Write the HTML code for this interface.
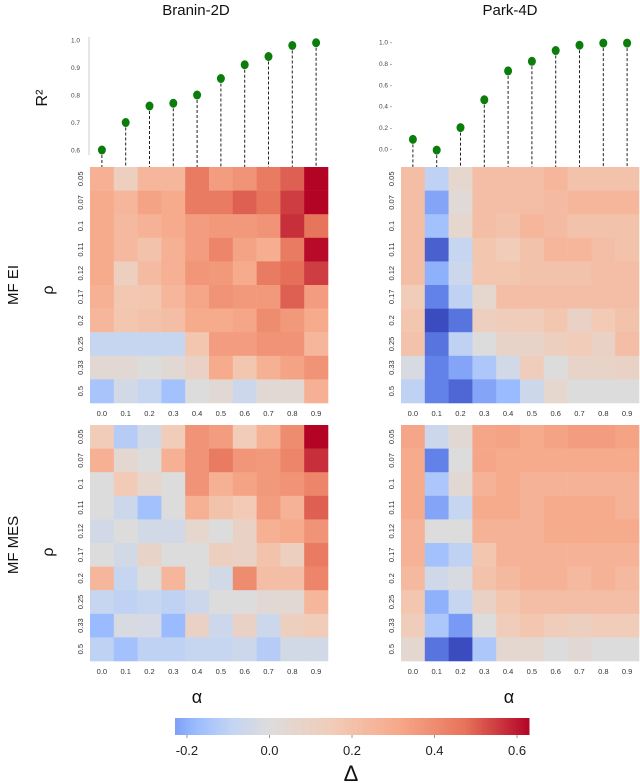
<!DOCTYPE html>
<html><head><meta charset="utf-8"><style>
html,body{margin:0;padding:0;background:#fff;width:640px;height:783px;overflow:hidden}
svg{font-family:"Liberation Sans","DejaVu Sans",sans-serif}
</style></head><body>
<svg id="c" width="640" height="783"></svg>
<script>
const alphas=["0.0","0.1","0.2","0.3","0.4","0.5","0.6","0.7","0.8","0.9"];
const rhos=["0.05","0.07","0.1","0.11","0.12","0.17","0.2","0.25","0.33","0.5"];
const r2Branin=[0.6,0.7,0.76,0.77,0.8,0.86,0.91,0.94,0.98,0.99];
const r2Park=[0.09,-0.01,0.2,0.46,0.73,0.82,0.92,0.97,0.99,0.99];
const braninTicks=[0.6,0.7,0.8,0.9,1.0];
const parkTicks=[0.0,0.2,0.4,0.6,0.8,1.0];
const cbTicks=[-0.2,0.0,0.2,0.4,0.6];
const braninEI=[
[0.28,0.12,0.25,0.25,0.45,0.35,0.38,0.45,0.5,0.63],
[0.3,0.25,0.33,0.3,0.45,0.45,0.5,0.47,0.55,0.63],
[0.3,0.24,0.27,0.3,0.35,0.36,0.36,0.38,0.57,0.47],
[0.3,0.24,0.2,0.28,0.35,0.42,0.33,0.29,0.45,0.62],
[0.3,0.12,0.23,0.28,0.37,0.36,0.3,0.45,0.48,0.55],
[0.28,0.17,0.18,0.25,0.32,0.38,0.36,0.36,0.5,0.35],
[0.25,0.18,0.2,0.22,0.3,0.3,0.32,0.4,0.36,0.3],
[-0.08,-0.08,-0.08,-0.08,0.18,0.35,0.35,0.38,0.38,0.25],
[0.04,0.04,0.0,0.04,0.1,0.3,0.18,0.28,0.33,0.38],
[-0.15,-0.04,-0.08,-0.16,0.0,0.04,-0.06,0.04,0.04,0.28]];
const parkEI=[
[0.22,-0.1,0.06,0.22,0.22,0.22,0.25,0.2,0.2,0.2],
[0.22,-0.22,0.03,0.22,0.22,0.22,0.23,0.25,0.25,0.25],
[0.22,-0.16,0.06,0.22,0.2,0.25,0.23,0.2,0.2,0.2],
[0.22,-0.33,-0.08,0.18,0.15,0.2,0.25,0.25,0.22,0.2],
[0.22,-0.2,-0.06,0.18,0.18,0.2,0.2,0.2,0.22,0.22],
[0.15,-0.28,-0.1,0.06,0.22,0.22,0.22,0.22,0.22,0.22],
[0.18,-0.36,-0.3,0.12,0.14,0.14,0.18,0.1,0.16,0.2],
[0.2,-0.3,-0.1,0.0,0.08,0.08,0.12,0.15,0.1,0.22],
[-0.02,-0.28,-0.22,-0.14,-0.04,0.14,0.0,0.08,0.08,0.1],
[-0.1,-0.28,-0.32,-0.22,-0.18,-0.06,0.06,0.0,0.0,0.0]];
const braninMES=[
[0.15,-0.12,-0.04,0.15,0.38,0.35,0.15,0.28,0.4,0.63],
[0.28,0.05,0.0,0.28,0.38,0.45,0.37,0.36,0.42,0.57],
[0.0,0.16,0.06,0.0,0.38,0.28,0.33,0.36,0.38,0.42],
[0.0,-0.06,-0.16,0.0,0.28,0.2,0.16,0.35,0.27,0.5],
[-0.04,0.0,-0.04,-0.04,0.06,0.0,0.1,0.28,0.3,0.38],
[0.0,-0.04,0.08,0.0,0.0,0.12,0.1,0.2,0.12,0.45],
[0.25,-0.08,0.0,0.25,0.0,-0.04,0.4,0.22,0.22,0.42],
[-0.08,-0.1,-0.08,-0.1,-0.06,0.0,0.0,0.04,0.04,0.25],
[-0.18,-0.02,-0.03,-0.18,0.1,-0.06,0.1,-0.06,0.12,0.15],
[-0.1,-0.16,-0.1,-0.1,-0.08,-0.08,-0.06,-0.12,-0.04,-0.04]];
const parkMES=[
[0.32,-0.06,0.04,0.32,0.33,0.3,0.33,0.35,0.35,0.33],
[0.3,-0.28,0.0,0.32,0.3,0.3,0.3,0.3,0.3,0.3],
[0.3,-0.14,0.04,0.27,0.3,0.27,0.27,0.27,0.27,0.27],
[0.3,-0.22,-0.08,0.3,0.3,0.27,0.3,0.3,0.3,0.27],
[0.27,0.0,0.0,0.27,0.27,0.27,0.3,0.3,0.3,0.3],
[0.27,-0.16,-0.1,0.18,0.27,0.27,0.27,0.27,0.27,0.27],
[0.24,-0.05,-0.02,0.2,0.24,0.27,0.27,0.24,0.27,0.24],
[0.18,-0.2,-0.08,0.1,0.18,0.22,0.22,0.22,0.22,0.22],
[0.14,-0.14,-0.24,0.0,0.14,0.18,0.14,0.12,0.15,0.15],
[0.05,-0.3,-0.36,-0.14,0.05,0.05,0.0,0.04,0.0,0.0]];

const NS="http://www.w3.org/2000/svg";
const svg=document.getElementById('c');
function mk(tag,attrs,parent){const e=document.createElementNS(NS,tag);for(const k in attrs)e.setAttribute(k,attrs[k]);(parent||svg).appendChild(e);return e;}
const stops=[[0,[59,76,192]],[0.125,[103,136,238]],[0.25,[154,187,255]],[0.375,[196,213,243]],[0.5,[221,220,220]],[0.625,[242,203,183]],[0.75,[247,168,137]],[0.875,[231,116,91]],[1,[180,4,38]]];
function cmap(v){let t=v<0?Math.max(-1,v/0.36):Math.min(1,v/0.63);t=(t+1)/2;
for(let i=1;i<stops.length;i++){if(t<=stops[i][0]){const a=stops[i-1],b=stops[i],f=(t-a[0])/(b[0]-a[0]);
return 'rgb('+a[1].map((c,j)=>Math.round(c+(b[1][j]-c)*f)).join(',')+')';}}return 'rgb(180,4,38)';}

const cellW=23.8,cellH=23.6;
function heat(data,x0,y0,name,maxX){
  const g=mk('g',{});
  
  
  data.forEach((row,r)=>row.forEach((v,c)=>{
    const x=x0+c*cellW;const w=Math.min(cellW,maxX-x);
    const rc=mk('rect',{x:x,y:y0+r*cellH,width:w+0.3,height:cellH+0.3,fill:cmap(v)},g);
    
    
  }));
  rhos.forEach((l,r)=>{const cy=y0+r*cellH+cellH/2;
    const t=mk('text',{x:0,y:0,transform:'translate('+(x0-7)+','+cy+') rotate(-90)','text-anchor':'middle','font-size':'7.5',fill:'#333'},g);t.textContent=l;
    });
  alphas.forEach((l,c)=>{const t=mk('text',{x:x0+c*cellW+cellW/2,y:y0+10*cellH+13,'text-anchor':'middle','font-size':'7.5',fill:'#333'},g);t.textContent=l;
    });
}
function stem(vals,ticks,x0,yTop,yBot,vTop,vBot,name,leftStyle){
  const g=mk('g',{});
  
  
  const ys=v=>yBot+(v-vBot)/(vTop-vBot)*(yTop-yBot);
  if(leftStyle) mk('line',{x1:x0-1,x2:x0-1,y1:ys(vTop)-3,y2:ys(vBot)+5,stroke:'#ccc','stroke-width':1},g);
  ticks.forEach(tv=>{const t=mk('text',{x:x0-(leftStyle?10:9),y:ys(tv)+2.5,'text-anchor':'end','font-size':'6.5',fill:'#444'},g);t.textContent=tv.toFixed(1)+(leftStyle?'':' -');
    });
  vals.forEach((v,i)=>{const cx=x0+i*cellW+cellW/2;
    const l=mk('line',{x1:cx,x2:cx,y1:ys(v),y2:167,stroke:'#222','stroke-width':1,'stroke-dasharray':'3,2'},g);
    
    const d=mk('ellipse',{cx:cx,cy:ys(v),rx:4,ry:4.5,fill:'#0a7d0a'},g);
    });
}
function txt(s,x,y,size,name,rot){const t=mk('text',{x:x,y:y,'text-anchor':'middle','font-size':size,fill:'#111'});
  if(rot)t.setAttribute('transform','rotate(-90 '+x+' '+y+')');t.textContent=s;
  return t;}

txt('Branin-2D',196,15,15,'title-branin');
txt('Park-4D',510,15,15,'title-park');
txt('R²',47,98,16,'r2-axis-title',true);
txt('MF EI',18,285,15,'row-title-mf-ei',true);
txt('ρ',53,290,16,'rho-axis-title-ei',true);
txt('MF MES',18,545,15,'row-title-mf-mes',true);
txt('ρ',53,552,16,'rho-axis-title-mes',true);
txt('α',197,703,18,'alpha-axis-title-left');
txt('α',509,703,18,'alpha-axis-title-right');

stem(r2Branin,braninTicks,90,40,150,1.0,0.6,'stem-plot-branin',true);
stem(r2Park,parkTicks,401,42,149,1.0,0.0,'stem-plot-park',false);
heat(braninEI,90,167,'heatmap-branin-mf-ei',329);
heat(parkEI,401,167,'heatmap-park-mf-ei',640);
heat(braninMES,90,425,'heatmap-branin-mf-mes',329);
heat(parkMES,401,425,'heatmap-park-mf-mes',640);

// colorbar
const cbX0=175,cbX1=529,vMin=-0.229,vMax=0.629;
const cb=mk('g',{});


const cx=v=>cbX0+(v-vMin)/(vMax-vMin)*(cbX1-cbX0);
for(let i=0;i<140;i++){const v0=vMin+(vMax-vMin)*i/140,v1=vMin+(vMax-vMin)*(i+1)/140;
  mk('rect',{x:cx(v0),y:718,width:cx(v1)-cx(v0)+0.5,height:17,fill:cmap((v0+v1)/2)},cb);}
cbTicks.forEach(v=>{mk('line',{x1:cx(v),x2:cx(v),y1:735,y2:738,stroke:'#999'},cb);
  const t=mk('text',{x:cx(v),y:755,'text-anchor':'middle','font-size':'13',fill:'#222'},cb);t.textContent=v.toFixed(1);
  });
txt('Δ',351,781,22,'colorbar-title');
</script>
</body></html>
